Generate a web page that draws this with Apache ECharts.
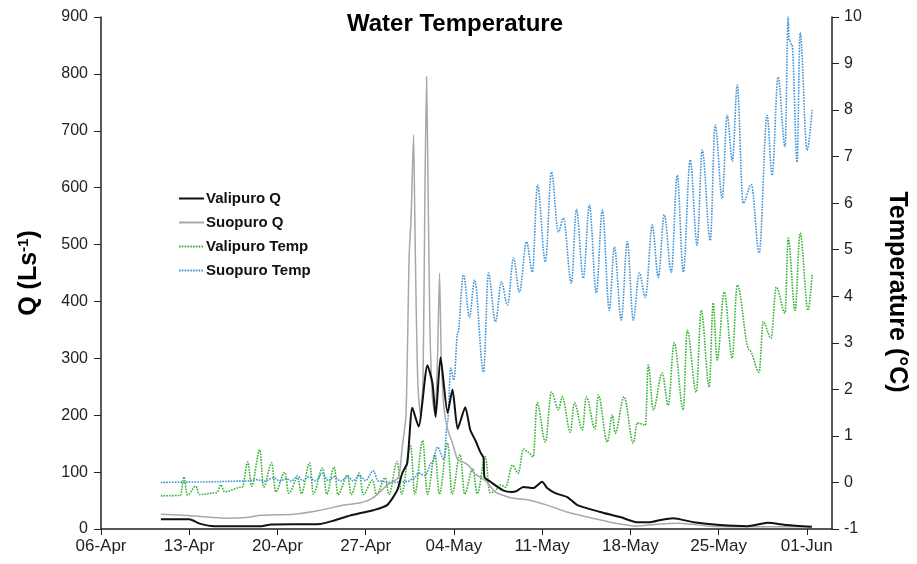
<!DOCTYPE html>
<html>
<head>
<meta charset="utf-8">
<script src="https://cdn.jsdelivr.net/npm/echarts@6/dist/echarts.min.js"></script>
<style>
  html, body { margin: 0; padding: 0; background: #fff; }
  #chart { width: 917px; height: 564px; }
</style>
</head>
<body>
<div id="chart"></div>
<script>
// x values are days after 06-Apr
const xTickLabels = ['06-Apr', '13-Apr', '20-Apr', '27-Apr', '04-May', '11-May', '18-May', '25-May', '01-Jun'];

// discharge, L/s
const valipuroQ = [
  [4.75, 17], [7.0, 17], [7.9, 9], [9.0, 5], [12.7, 5], [13.5, 8], [17.4, 9], [18.5, 15],
  [19.5, 22], [20.6, 28], [21.6, 33], [22.7, 42], [23.5, 68], [23.9, 98], [24.3, 116],
  [24.7, 213], [25.2, 180], [25.9, 288], [26.3, 256], [26.55, 197], [26.94, 302], [27.5, 204],
  [27.89, 245], [28.3, 176], [28.9, 214], [29.3, 174], [29.7, 156], [30.1, 135], [30.35, 125],
  [30.43, 91], [30.9, 83], [31.9, 68], [32.6, 65], [33.0, 67], [33.5, 74], [34.3, 72],
  [35.0, 83], [35.4, 72], [36.05, 63], [37.0, 56], [37.8, 42], [39.6, 30], [41.2, 21],
  [42.5, 12], [43.6, 12], [44.4, 16], [45.4, 19], [47.0, 12], [49.1, 7], [51.3, 5],
  [52.9, 11], [54.4, 7], [56.4, 4]
];
const suopuroQ = [
  [4.75, 26], [7.4, 23], [10.0, 19], [11.5, 20], [12.7, 24], [15.3, 26], [17.4, 33], [19.3, 42],
  [20.6, 46], [21.6, 55], [22.7, 77], [23.6, 91], [23.9, 144], [24.2, 200], [24.45, 480],
  [24.6, 545], [24.8, 693], [24.9, 545], [25.0, 400], [25.15, 250], [25.35, 200], [25.55, 260],
  [25.7, 590], [25.83, 795], [25.95, 600], [26.1, 350], [26.3, 230], [26.5, 200], [26.7, 300],
  [26.86, 450], [27.0, 300], [27.2, 215], [27.5, 175], [27.9, 150], [28.3, 122], [28.9, 116],
  [29.3, 108], [29.6, 98], [30.5, 85], [31.3, 65], [32.5, 55], [33.9, 51], [35.4, 42],
  [36.95, 30], [39.0, 19], [40.6, 11], [42.5, 5], [44.4, 9], [45.9, 10], [48.3, 5],
  [52.3, 4], [56.4, 4]
];

// water temperature, deg C
const valipuroTemp = [
  [4.75, -0.29], [6.3, -0.28], [6.58, 0.12], [6.85, -0.27], [7.53, -0.08], [7.8, -0.26],
  [9.2, -0.22], [9.5, -0.05], [9.8, -0.2], [11.2, -0.1], [11.65, 0.44], [11.95, -0.08],
  [12.6, 0.7], [12.9, -0.1], [13.55, 0.42], [13.85, -0.2], [14.58, 0.22], [14.9, -0.23],
  [15.61, 0.1], [15.9, -0.24], [16.56, 0.42], [16.85, -0.25], [17.59, 0.31], [17.9, -0.25],
  [18.5, 0.33], [18.8, -0.26], [19.57, 0.16], [19.85, -0.26], [20.5, 0.2], [20.8, -0.26],
  [21.55, 0.05], [21.85, -0.26], [22.55, 0.1], [22.85, -0.26], [23.5, 0.45], [23.85, -0.25],
  [24.56, 0.8], [24.9, -0.25], [25.52, 0.9], [25.9, -0.25], [26.5, 0.6], [26.85, -0.25],
  [27.5, 0.85], [27.85, -0.25], [28.5, 0.6], [28.85, -0.25], [29.5, 0.3], [29.85, -0.24],
  [30.5, 0.55], [30.85, -0.22], [31.2, -0.2], [31.7, -0.05], [32.1, -0.1], [32.65, 0.37],
  [33.1, 0.2], [33.52, 0.72], [33.9, 0.65], [34.3, 0.55], [34.6, 1.71], [35.26, 0.87],
  [35.74, 1.94], [36.3, 1.56], [36.6, 1.84], [37.24, 1.08], [37.56, 1.71], [38.2, 1.13],
  [38.5, 1.84], [39.2, 1.15], [39.46, 1.88], [40.17, 0.87], [40.57, 1.45], [40.8, 1.06],
  [41.5, 1.84], [42.23, 0.85], [42.55, 1.28], [43.2, 1.23], [43.42, 2.52], [43.82, 1.56],
  [44.53, 2.35], [45.0, 1.66], [45.48, 3.0], [46.2, 1.56], [46.51, 3.27], [47.23, 1.94],
  [47.62, 3.7], [48.26, 2.05], [48.57, 3.86], [48.89, 2.63], [49.45, 4.09], [50.08, 2.67],
  [50.48, 4.24], [51.43, 2.85], [52.22, 2.37], [52.54, 3.45], [53.17, 3.1], [53.57, 4.2],
  [54.28, 3.64], [54.52, 5.25], [55.07, 3.7], [55.47, 5.36], [56.1, 3.7], [56.42, 4.46]
];
const suopuroTemp = [
  [4.75, 0.0], [8.0, 0.01], [11.5, 0.03], [12.3, 0.06], [13.0, 0.03], [13.7, 0.1], [14.2, 0.03],
  [14.7, 0.08], [15.1, 0.03], [15.6, 0.14], [16.0, 0.04], [16.5, 0.12], [17.0, 0.03],
  [17.6, 0.2], [18.0, 0.04], [18.5, 0.12], [19.0, 0.03], [19.6, 0.12], [20.0, 0.03],
  [20.5, 0.15], [21.0, 0.04], [21.6, 0.25], [22.0, 0.03], [23.0, 0.0], [24.3, 0.02],
  [24.8, 0.08], [25.2, 0.2], [25.7, 0.15], [26.3, 0.45], [26.7, 0.76], [27.2, 0.5],
  [27.5, 1.3], [27.75, 2.46], [28.0, 2.2], [28.3, 3.2], [28.76, 4.46], [29.24, 3.55],
  [29.64, 4.35], [30.35, 2.37], [30.74, 4.5], [31.3, 3.45], [31.77, 4.31], [32.25, 3.81],
  [32.73, 4.82], [33.2, 4.09], [33.76, 5.17], [34.23, 4.52], [34.63, 6.39], [35.26, 4.74],
  [35.74, 6.67], [36.29, 5.38], [36.69, 5.68], [37.32, 4.28], [37.72, 5.87], [38.27, 4.39],
  [38.75, 5.96], [39.3, 4.07], [39.78, 5.85], [40.33, 3.7], [40.73, 5.06], [41.28, 3.49],
  [41.76, 5.17], [42.23, 3.49], [42.71, 4.5], [43.2, 3.98], [43.74, 5.53], [44.22, 4.41],
  [44.69, 5.75], [45.25, 4.52], [45.72, 6.6], [46.2, 4.52], [46.75, 6.93], [47.3, 5.1],
  [47.7, 7.14], [48.34, 5.2], [48.73, 7.68], [49.29, 6.1], [49.68, 7.89], [50.1, 6.9],
  [50.48, 8.54], [50.95, 6.0], [51.6, 6.4], [52.22, 4.93], [52.85, 7.89], [53.25, 6.6],
  [53.72, 8.71], [54.28, 7.21], [54.52, 10.0], [54.6, 9.5], [54.83, 9.4], [55.23, 6.88],
  [55.47, 9.66], [56.02, 7.14], [56.42, 8.0]
];

const chart = echarts.init(document.getElementById('chart'));
const font = 'Liberation Sans, Arial, sans-serif';
const axisColor = '#222';

const option = {
  animation: false,
  textStyle: { fontFamily: font },
  title: {
    text: 'Water Temperature',
    left: 450,
    textAlign: 'center',
    top: 7,
    textStyle: { fontSize: 24, fontWeight: 'bold', color: '#000', fontFamily: font }
  },
  legend: {
    orient: 'vertical',
    left: 173,
    top: 186,
    itemWidth: 25,
    itemHeight: 14,
    itemGap: 9,
    itemStyle: { opacity: 0 }, // line only, no symbol marker
    textStyle: { fontSize: 15, fontWeight: 'bold', color: '#111', padding: [0, 0, 0, -3] },
    data: ['Valipuro Q', 'Suopuro Q', 'Valipuro Temp', 'Suopuro Temp']
  },
  grid: { left: 101, right: 85, top: 17, bottom: 35 },
  xAxis: {
    type: 'value',
    min: 0,
    max: 58,
    interval: 7,
    axisLine: { lineStyle: { color: axisColor, width: 1.5 } },
    axisTick: { length: 6, lineStyle: { color: axisColor } },
    axisLabel: {
      fontSize: 17, color: axisColor, margin: 9, showMaxLabel: false,
      formatter: v => xTickLabels[v / 7] || ''
    },
    splitLine: { show: false }
  },
  yAxis: [
    {
      type: 'value',
      min: 0,
      max: 900,
      interval: 100,
      name: 'Q (Ls{sup|-1})',
      nameLocation: 'middle',
      nameGap: 58,
      nameRotate: 90,
      nameTextStyle: {
        fontSize: 25, fontWeight: 'bold', color: '#000',
        rich: { sup: { fontSize: 15, fontWeight: 'bold', padding: [0, 0, 12, 0] } }
      },
      axisLine: { show: true, lineStyle: { color: axisColor, width: 1.5 } },
      axisTick: { show: true, length: 7, lineStyle: { color: axisColor } },
      axisLabel: { fontSize: 16, color: axisColor, margin: 13 },
      splitLine: { show: false }
    },
    {
      type: 'value',
      min: -1,
      max: 10,
      interval: 1,
      position: 'right',
      name: 'Temperature (°C)',
      nameLocation: 'middle',
      nameGap: 52,
      nameRotate: -90,
      nameTextStyle: { fontSize: 25, fontWeight: 'bold', color: '#000', padding: [0, 0, 0, 38] },
      axisLine: { show: true, lineStyle: { color: axisColor, width: 1.5 } },
      axisTick: { show: true, length: 7, lineStyle: { color: axisColor } },
      axisLabel: { fontSize: 16, color: axisColor, margin: 12 },
      splitLine: { show: false }
    }
  ],
  series: [
    {
      name: 'Valipuro Q', type: 'line', yAxisIndex: 0, data: valipuroQ,
      symbol: 'none', smooth: 0.2, z: 4,
      lineStyle: { color: '#111', width: 2 }, itemStyle: { color: '#111' }
    },
    {
      name: 'Suopuro Q', type: 'line', yAxisIndex: 0, data: suopuroQ,
      symbol: 'none', smooth: 0.2, z: 3,
      lineStyle: { color: '#a8a8a8', width: 1.5 }, itemStyle: { color: '#a8a8a8' }
    },
    {
      name: 'Valipuro Temp', type: 'line', yAxisIndex: 1, data: valipuroTemp,
      symbol: 'none', smooth: 0.35, smoothMonotone: 'x', z: 2,
      lineStyle: { color: '#35b230', width: 1.6, type: [1.6, 1.2] }, itemStyle: { color: '#35b230' }
    },
    {
      name: 'Suopuro Temp', type: 'line', yAxisIndex: 1, data: suopuroTemp,
      symbol: 'none', smooth: 0.35, smoothMonotone: 'x', z: 2,
      lineStyle: { color: '#3f93d8', width: 1.6, type: [1.6, 1.2] }, itemStyle: { color: '#3f93d8' }
    }
  ]
};

chart.setOption(option);
</script>
</body>
</html>
